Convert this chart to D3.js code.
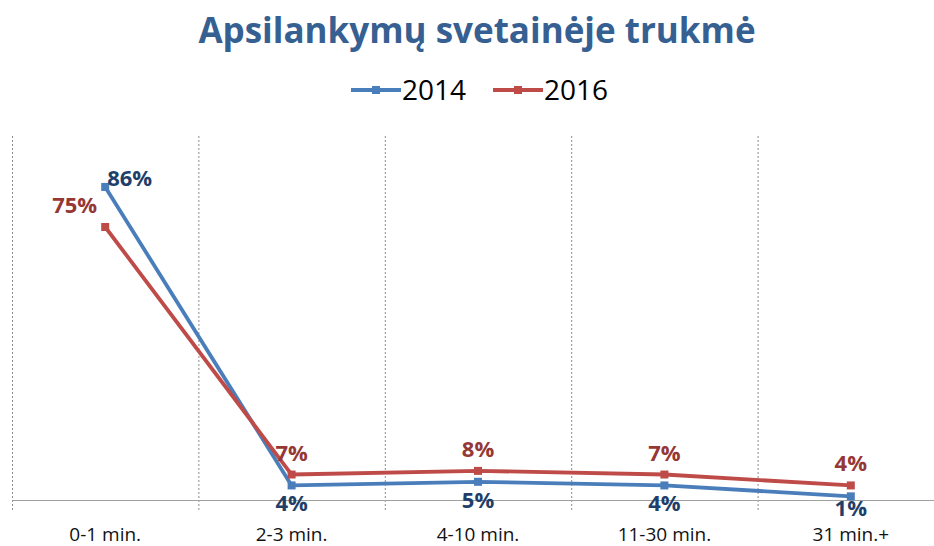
<!DOCTYPE html>
<html>
<head>
<meta charset="utf-8">
<script src="https://cdn.jsdelivr.net/npm/d3@7"></script>
<style>
  body { margin: 0; background: #fff; }
  svg { display: block; font-family: "Open Sans", "Noto Sans", sans-serif; }
</style>
</head>
<body>
<svg width="934" height="546"></svg>
<script>
// duomenys
const categories = ["0-1 min.", "2-3 min.", "4-10 min.", "11-30 min.", "31 min.+"];
const years = ["2014", "2016"];
const values2014 = [0.86, 0.04, 0.05, 0.04, 0.01];
const values2016 = [0.75, 0.07, 0.08, 0.07, 0.04];

const lineColors = ["#4A7EBB", "#BE4B48"];
const labelColors = ["#1F3F6A", "#953735"];

const svg = d3.select("svg");

// mastelis
const x = d3.scaleBand().domain(categories).range([12, 944]);
const y = d3.scaleLinear().domain([0, 1]).range([500, 136]);

// vertikalios tinklelio linijos (kategoriju ribose)
svg.append("g")
  .selectAll("line")
  .data(categories)
  .enter()
  .append("line")
  .attr("x1", (d) => x(d) + 0.5)
  .attr("x2", (d) => x(d) + 0.5)
  .attr("y1", y(1))
  .attr("y2", y(0) + 10)
  .attr("stroke", "#8c8c8c")
  .attr("stroke-width", 1)
  .attr("stroke-dasharray", "2,2");

// x asis
svg.append("line")
  .attr("x1", x.range()[0])
  .attr("x2", 934)
  .attr("y1", y(0) + 0.5)
  .attr("y2", y(0) + 0.5)
  .attr("stroke", "#a0a0a0")
  .attr("stroke-width", 1.2);

svg.append("g")
  .selectAll("text")
  .data(categories)
  .enter()
  .append("text")
  .attr("x", (d) => x(d) + x.bandwidth() / 2)
  .attr("y", 541)
  .attr("text-anchor", "middle")
  .attr("font-size", 19)
  .attr("fill", "#111")
  .text((d) => d);

// serijos
const series = [values2014, values2016];
const line = d3.line()
  .x((d, i) => x(categories[i]) + x.bandwidth() / 2)
  .y((d) => y(d));

series.forEach((vals, s) => {
  const g = svg.append("g");
  g.append("path")
    .datum(vals)
    .attr("d", line)
    .attr("fill", "none")
    .attr("stroke", lineColors[s])
    .attr("stroke-width", 3.8)
    .attr("stroke-linejoin", "round");

  g.selectAll("rect")
    .data(vals)
    .enter()
    .append("rect")
    .attr("x", (d, i) => x(categories[i]) + x.bandwidth() / 2 - 4)
    .attr("y", (d) => y(d) - 4)
    .attr("width", 8)
    .attr("height", 8)
    .attr("fill", lineColors[s]);

  // reiksmiu etiketes
  g.selectAll("text")
    .data(vals)
    .enter()
    .append("text")
    .attr("x", (d, i) => {
      const cx = x(categories[i]) + x.bandwidth() / 2;
      if (i === 0) return s === 0 ? cx + 2 : cx - 8;
      return cx;
    })
    .attr("y", (d, i) => {
      if (i === 0) return s === 0 ? y(d) - 1 : y(d) - 14;
      return s === 0 ? Math.min(y(d) + 26, 516) : y(d) - 14;
    })
    .attr("text-anchor", (d, i) => i === 0 ? (s === 0 ? "start" : "end") : "middle")
    .attr("font-size", 22)
    .attr("font-weight", "bold")
    .attr("fill", labelColors[s])
    .text((d) => Math.round(d * 100) + "%");
});

// pavadinimas
svg.append("text")
  .attr("x", 477)
  .attr("y", 43)
  .attr("text-anchor", "middle")
  .attr("font-size", 35)
  .attr("font-weight", "bold")
  .attr("fill", "#366092")
  .text("Apsilankymų svetainėje trukmė");

// legenda
const legendX = [351, 493];
years.forEach((yr, s) => {
  const lg = svg.append("g").attr("transform", `translate(${legendX[s]},90)`);
  lg.append("line")
    .attr("x1", 0).attr("x2", 50)
    .attr("y1", 0).attr("y2", 0)
    .attr("stroke", lineColors[s])
    .attr("stroke-width", 4);
  lg.append("rect")
    .attr("x", 21).attr("y", -4)
    .attr("width", 8).attr("height", 8)
    .attr("fill", lineColors[s]);
  lg.append("text")
    .attr("x", 51)
    .attr("y", 10)
    .attr("font-size", 28)
    .attr("fill", "#000")
    .text(yr);
});
</script>
</body>
</html>
